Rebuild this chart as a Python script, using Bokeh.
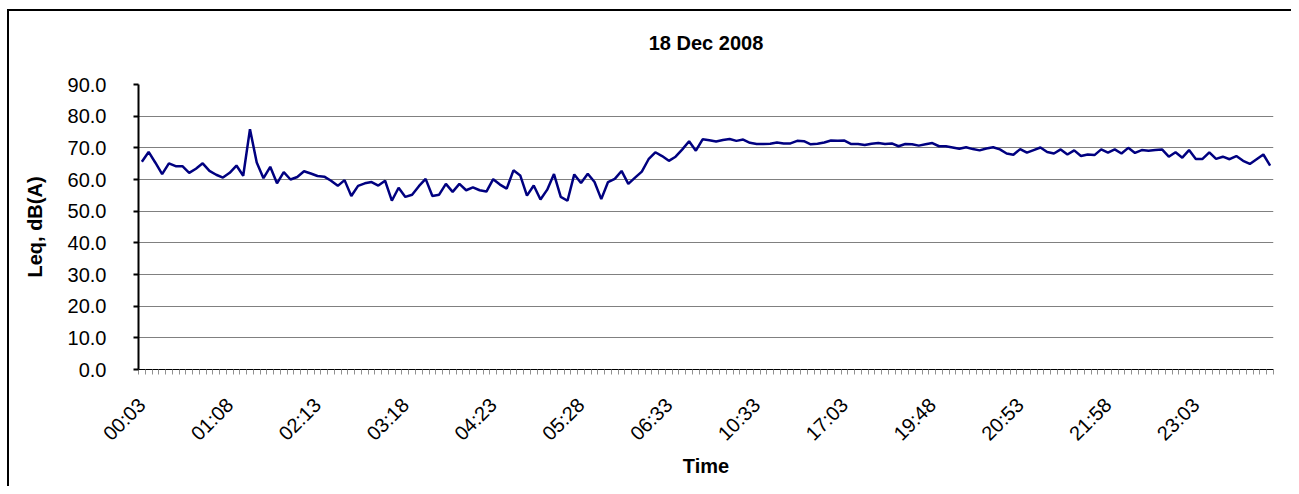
import math
from bokeh.plotting import figure
from bokeh.models import FixedTicker, Range1d, PrintfTickFormatter, ColumnDataSource
from bokeh.embed import file_html
from bokeh.resources import INLINE

# Leq values, one per category (5-minute samples, 168 categories)
leq = [
    65.6, 68.7, 65.3, 61.7, 65.1, 64.2, 64.2, 62.1, 63.4, 65.1,
    62.7, 61.5, 60.6, 62.1, 64.4, 61.2, 75.9, 65.4, 60.4, 64.0,
    58.8, 62.3, 60.0, 60.8, 62.6, 61.9, 61.1, 60.9, 59.6, 58.0,
    59.8, 54.8, 58.0, 58.8, 59.2, 58.1, 59.6, 53.3, 57.4, 54.5,
    55.2, 57.9, 60.2, 54.8, 55.2, 58.6, 56.1, 58.6, 56.6, 57.5,
    56.6, 56.2, 60.1, 58.4, 57.1, 62.9, 61.3, 54.9, 58.1, 53.7,
    56.8, 61.7, 54.5, 53.3, 61.6, 58.9, 61.8, 59.2, 53.8, 59.2,
    60.2, 62.7, 58.6, 60.6, 62.5, 66.4, 68.6, 67.4, 65.9, 67.2,
    69.5, 72.1, 69.1, 72.7, 72.4, 72.0, 72.5, 72.8, 72.2, 72.6,
    71.6, 71.2, 71.2, 71.3, 71.7, 71.4, 71.4, 72.2, 72.1, 71.1,
    71.3, 71.7, 72.3, 72.2, 72.3, 71.2, 71.2, 70.9, 71.3, 71.5,
    71.2, 71.4, 70.5, 71.2, 71.1, 70.7, 71.1, 71.5, 70.5, 70.5,
    70.1, 69.7, 70.2, 69.6, 69.2, 69.8, 70.2, 69.5, 68.2, 67.8,
    69.6, 68.5, 69.3, 70.1, 68.7, 68.2, 69.5, 67.9, 69.2, 67.4,
    67.9, 67.7, 69.5, 68.5, 69.5, 68.2, 70.0, 68.4, 69.3, 69.1,
    69.3, 69.5, 67.2, 68.6, 66.9, 69.3, 66.5, 66.5, 68.6, 66.5,
    67.2, 66.4, 67.4, 65.9, 64.9, 66.4, 67.9, 64.4,
]

# category labels shown on the axis (every 13th category)
tick_labels = ["00:03", "01:08", "02:13", "03:18", "04:23", "05:28", "06:33",
               "10:33", "17:03", "19:48", "20:53", "21:58", "23:03"]
label_step = 13
y_ticks = [0, 10, 20, 30, 40, 50, 60, 70, 80, 90]

n = len(leq)
idx = list(range(n))
src = ColumnDataSource(dict(x=idx, y=leq))

FONT = "Liberation Sans"

p = figure(frame_width=1135, frame_height=285,
           min_border_left=138, min_border_right=18,
           min_border_top=84, min_border_bottom=117,
           x_range=Range1d(-0.5, n - 0.5), y_range=Range1d(0, 90),
           output_backend="svg", toolbar_location=None,
           background_fill_color="white", border_fill_color=None)
p.outline_line_color = None
# chart-area border (left and top edges visible), drawn behind the transparent canvas border
p.styles = {
    "background": ("linear-gradient(#000,#000) 7px 9px / 2px 100% no-repeat, "
                   "linear-gradient(#000,#000) 7px 9px / 100% 2px no-repeat, white"),
}

p.title.text = "18 Dec 2008"
p.title.align = "center"
p.title.vertical_align = "top"
p.title.text_font = FONT
p.title.text_font_size = "20px"
p.title.text_font_style = "bold"
p.title.text_color = "black"
p.title.standoff = 57

p.line("x", "y", source=src, line_color="#000080", line_width=2.5)

# y axis
p.yaxis.ticker = FixedTicker(ticks=y_ticks)
p.yaxis.formatter = PrintfTickFormatter(format="%.1f")
p.yaxis.axis_line_color = "black"
p.yaxis.axis_line_width = 2
p.yaxis.major_tick_line_color = "black"
p.yaxis.major_tick_line_width = 2
p.yaxis.major_tick_out = 5
p.yaxis.major_tick_in = 0
p.yaxis.minor_tick_line_color = None
p.yaxis.major_label_text_font = FONT
p.yaxis.major_label_text_font_size = "20px"
p.yaxis.major_label_text_color = "black"
p.yaxis.major_label_standoff = 27
p.yaxis.axis_label = "Leq, dB(A)"
p.yaxis.axis_label_text_font = FONT
p.yaxis.axis_label_text_font_size = "20px"
p.yaxis.axis_label_text_font_style = "bold"
p.yaxis.axis_label_text_color = "black"
p.yaxis.axis_label_standoff = 19

# x axis
major = [k * label_step for k in range(len(tick_labels))]
p.xaxis.ticker = FixedTicker(ticks=major, minor_ticks=[i - 0.5 for i in range(n + 1)])
p.xaxis.major_label_overrides = {m: lab for m, lab in zip(major, tick_labels)}
p.xaxis.major_label_orientation = math.pi / 4
p.xaxis.major_tick_line_color = None
p.xaxis.major_tick_out = 0
p.xaxis.major_tick_in = 0
p.xaxis.minor_tick_line_color = "#909090"
p.xaxis.minor_tick_out = 5
p.xaxis.minor_tick_in = 0
p.xaxis.axis_line_color = "black"
p.xaxis.axis_line_width = 1
p.xaxis.major_label_text_font = FONT
p.xaxis.major_label_text_font_size = "20px"
p.xaxis.major_label_text_color = "black"
p.xaxis.major_label_standoff = 27
p.xaxis.axis_label = "Time"
p.xaxis.axis_label_text_font = FONT
p.xaxis.axis_label_text_font_size = "20px"
p.xaxis.axis_label_text_font_style = "bold"
p.xaxis.axis_label_text_color = "black"
p.xaxis.axis_label_standoff = 0

p.xgrid.visible = False
p.ygrid.grid_line_color = "#808080"
p.ygrid.grid_line_width = 1

open("out.html", "w").write(file_html(p, INLINE))
